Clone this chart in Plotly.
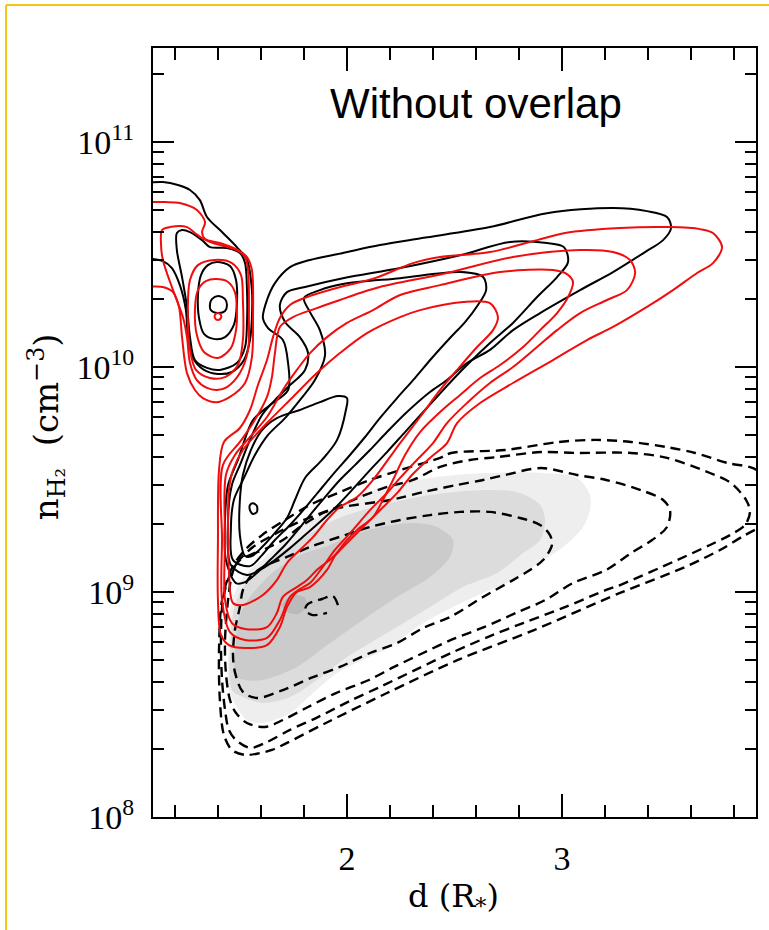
import plotly.graph_objects as go

# ---------------- data: d (R*) and log10 n_H2 (cm^-3) ----------------
# gray shaded density (three levels + peak)
gray1_d = [1.451,1.451,1.465,1.526,1.605,1.735,1.921,2.121,2.386,2.651,2.902,3.070,3.130,3.130,3.098,3.005,2.912,2.772,2.633,2.465,2.326,2.200,2.074,1.954,1.842,1.735,1.609,1.535,1.488,1.451]
gray1_lg = [8.564,8.787,8.964,9.076,9.142,9.253,9.364,9.453,9.507,9.529,9.529,9.507,9.431,9.364,9.289,9.200,9.142,9.053,8.996,8.920,8.844,8.756,8.698,8.640,8.551,8.462,8.418,8.431,8.489,8.564]
gray2_d = [1.465,1.460,1.479,1.540,1.642,1.781,1.921,2.074,2.386,2.665,2.805,2.898,2.921,2.898,2.819,2.698,2.540,2.386,2.233,2.107,1.981,1.860,1.735,1.609,1.516,1.465]
gray2_lg = [8.564,8.787,8.942,9.053,9.142,9.231,9.311,9.364,9.431,9.453,9.440,9.387,9.320,9.231,9.173,9.084,9.022,8.933,8.844,8.773,8.698,8.609,8.533,8.507,8.533,8.564]
gray3_d = [1.484,1.484,1.502,1.549,1.642,1.781,1.921,2.000,2.153,2.326,2.419,2.493,2.479,2.386,2.233,2.074,1.921,1.767,1.609,1.526,1.484]
gray3_lg = [8.627,8.787,8.898,8.978,9.076,9.164,9.209,9.244,9.289,9.307,9.289,9.231,9.156,9.067,8.978,8.876,8.773,8.667,8.609,8.609,8.627]
gray4_d = [1.712,1.758,1.805,1.809,1.772,1.721,1.698,1.712]
gray4_lg = [8.964,8.987,8.973,8.933,8.902,8.911,8.938,8.964]

# black dashed contours
dash0_d = [1.958,1.935,1.884,1.819,1.805,1.837,1.907]
dash0_lg = [8.942,8.982,8.969,8.947,8.920,8.898,8.907]
dash1_d = [1.470,1.479,1.502,1.516,1.549,1.609,1.721,1.828,1.991,2.107,2.247,2.386,2.526,2.665,2.805,2.898,2.944,2.953,2.912,2.851,2.772,2.633,2.479,2.354,2.233,2.107,1.967,1.842,1.702,1.581,1.516,1.479,1.470]
dash1_lg = [8.720,8.831,8.933,9.009,9.067,9.111,9.156,9.200,9.253,9.289,9.320,9.342,9.356,9.356,9.329,9.298,9.253,9.209,9.142,9.098,9.053,8.978,8.889,8.840,8.773,8.729,8.667,8.622,8.564,8.529,8.556,8.644,8.720]
dash2_d = [1.465,1.488,1.563,1.656,1.767,1.921,1.981,2.200,2.260,2.354,2.512,2.633,2.735,2.902,3.070,3.205,3.367,3.470,3.502,3.488,3.419,3.321,3.205,3.051,2.921,2.786,2.637,2.484,2.354,2.219,2.102,1.949,1.819,1.702,1.619,1.535,1.484,1.456,1.437,1.433,1.447,1.465]
dash2_lg = [9.076,9.129,9.200,9.253,9.307,9.364,9.378,9.409,9.422,9.444,9.476,9.498,9.520,9.551,9.520,9.498,9.453,9.409,9.364,9.289,9.231,9.173,9.098,9.040,8.964,8.907,8.844,8.787,8.729,8.667,8.609,8.551,8.489,8.431,8.400,8.418,8.462,8.520,8.640,8.787,8.964,9.076]
dash3_d = [1.502,1.549,1.628,1.702,1.781,1.888,1.967,2.060,2.186,2.307,2.433,2.572,2.702,2.902,3.070,3.321,3.488,3.688,3.786,3.856,3.874,3.851,3.781,3.688,3.535,3.270,3.205,3.014,2.819,2.665,2.484,2.316,2.153,2.014,1.865,1.735,1.619,1.549,1.484,1.451,1.433,1.419,1.414,1.423,1.456,1.502]
dash3_lg = [9.142,9.164,9.195,9.231,9.289,9.351,9.382,9.422,9.467,9.498,9.556,9.587,9.600,9.622,9.618,9.618,9.596,9.529,9.484,9.409,9.356,9.298,9.253,9.209,9.142,9.031,9.009,8.933,8.862,8.804,8.729,8.653,8.578,8.516,8.444,8.387,8.329,8.307,8.342,8.387,8.476,8.609,8.787,8.964,9.076,9.142]
dash4_d = [3.968,3.888,3.772,3.619,3.488,3.321,3.153,2.986,2.735,2.484,2.433,2.247,2.107,1.967,1.828,1.712,1.605,1.526,1.465,1.419,1.405,1.409,1.428,1.465,1.526,1.595,1.651,1.902,2.186,2.516,2.870,3.270,3.572,3.735,3.851,3.968]
dash4_lg = [9.498,9.551,9.573,9.618,9.644,9.667,9.676,9.667,9.631,9.618,9.596,9.542,9.498,9.444,9.387,9.320,9.253,9.187,9.107,8.964,8.742,8.520,8.364,8.298,8.276,8.284,8.298,8.418,8.551,8.698,8.831,8.996,9.111,9.187,9.253,9.311]

# black solid contours: blob at d~1.4
blk_blob1_d = [1.400,1.433,1.442,1.433,1.400,1.367,1.363,1.372,1.400]
blk_blob1_lg = [10.316,10.302,10.276,10.249,10.240,10.253,10.280,10.302,10.316]
blk_blob2_d = [1.395,1.456,1.484,1.488,1.474,1.433,1.386,1.335,1.312,1.307,1.321,1.353,1.395]
blk_blob2_lg = [10.467,10.449,10.387,10.276,10.187,10.133,10.124,10.147,10.218,10.320,10.409,10.453,10.467]
blk_blob3_d = [1.209,1.233,1.270,1.326,1.363,1.442,1.502,1.526,1.535,1.535,1.526,1.488,1.409,1.349,1.293,1.270,1.256,1.233,1.209,1.209]
blk_blob3_lg = [10.596,10.609,10.600,10.564,10.533,10.529,10.507,10.462,10.342,10.196,10.089,10.018,9.987,9.996,10.031,10.133,10.267,10.400,10.520,10.596]
blk_blob4_d = [1.060,1.144,1.214,1.270,1.316,1.349,1.419,1.488,1.535,1.558,1.558,1.549,1.521,1.465,1.400,1.335,1.284,1.260,1.251,1.223,1.186,1.144,1.060]
blk_blob4_lg = [10.818,10.822,10.809,10.787,10.742,10.667,10.600,10.533,10.476,10.342,10.222,10.120,10.031,9.978,9.969,9.987,10.040,10.142,10.253,10.364,10.440,10.471,10.484]
# black solid contours: ridge
blk_ridge1_d = [1.484,1.437,1.433,1.447,1.493,1.563,1.642,1.726,1.726,1.702,1.633,1.609,1.628,1.665,1.735,1.828,1.981,2.153,2.349,2.665,2.930,3.237,3.395,3.488,3.507,3.470,3.386,3.237,3.084,2.898,2.772,2.665,2.558,2.465,2.386,2.279,2.186,2.107,2.037,1.967,1.898,1.828,1.772,1.712,1.642,1.586,1.526,1.484]
blk_ridge1_lg = [9.040,9.142,9.320,9.476,9.587,9.764,9.831,9.898,10.018,10.120,10.173,10.218,10.298,10.373,10.444,10.476,10.507,10.542,10.573,10.622,10.684,10.707,10.693,10.667,10.618,10.564,10.511,10.422,10.342,10.240,10.164,10.076,10.018,9.942,9.889,9.800,9.711,9.631,9.564,9.498,9.422,9.342,9.276,9.209,9.142,9.089,9.044,9.040]
blk_ridge2_d = [1.535,1.460,1.447,1.465,1.502,1.549,1.605,1.665,1.726,1.805,1.819,1.781,1.712,1.688,1.721,1.805,1.981,2.247,2.530,2.758,2.930,3.009,3.028,2.977,2.884,2.772,2.665,2.558,2.456,2.363,2.270,2.186,2.107,2.023,1.949,1.874,1.805,1.735,1.665,1.595,1.535]
blk_ridge2_lg = [9.076,9.120,9.320,9.476,9.564,9.676,9.787,9.853,9.911,9.987,10.062,10.133,10.200,10.276,10.333,10.356,10.395,10.440,10.498,10.556,10.551,10.533,10.467,10.400,10.311,10.196,10.107,10.009,9.907,9.809,9.711,9.622,9.542,9.453,9.378,9.311,9.253,9.195,9.142,9.098,9.076]
blk_ridge3_d = [1.549,1.470,1.460,1.474,1.521,1.572,1.633,1.712,1.781,1.851,1.898,1.874,1.828,1.800,1.874,1.981,2.247,2.530,2.633,2.647,2.609,2.549,2.479,2.395,2.316,2.233,2.153,2.084,2.014,1.944,1.874,1.805,1.735,1.665,1.605,1.549]
blk_ridge3_lg = [9.115,9.142,9.276,9.409,9.507,9.609,9.698,9.773,9.853,9.942,10.053,10.164,10.244,10.307,10.342,10.369,10.395,10.422,10.400,10.342,10.276,10.200,10.129,10.040,9.951,9.862,9.773,9.689,9.609,9.533,9.453,9.373,9.298,9.231,9.164,9.115]
blk_ridge4_d = [1.526,1.502,1.502,1.516,1.553,1.605,1.674,1.781,1.874,1.958,2.000,1.995,1.954,1.884,1.805,1.758,1.721,1.656,1.605,1.558,1.526]
blk_ridge4_lg = [9.160,9.253,9.409,9.520,9.631,9.720,9.773,9.809,9.844,9.871,9.862,9.809,9.676,9.587,9.507,9.409,9.329,9.253,9.200,9.160,9.160]
blk_ridge5_d = [1.563,1.581,1.581,1.563,1.549,1.549,1.563]
blk_ridge5_lg = [9.395,9.382,9.356,9.347,9.364,9.387,9.395]

# red solid contours: blob
red_blob1_d = [1.400,1.414,1.414,1.400,1.386,1.386,1.400]
red_blob1_lg = [10.240,10.231,10.218,10.209,10.218,10.231,10.240]
red_blob2_d = [1.391,1.447,1.479,1.488,1.484,1.460,1.400,1.335,1.302,1.293,1.307,1.344,1.391]
red_blob2_lg = [10.391,10.378,10.333,10.253,10.164,10.084,10.040,10.067,10.142,10.253,10.342,10.382,10.391]
red_blob3_d = [1.386,1.465,1.507,1.516,1.516,1.493,1.433,1.363,1.298,1.270,1.260,1.270,1.307,1.386]
red_blob3_lg = [10.476,10.462,10.409,10.298,10.120,10.009,9.955,9.951,9.987,10.076,10.253,10.387,10.453,10.476]
red_blob4_d = [1.140,1.177,1.256,1.293,1.326,1.377,1.488,1.526,1.540,1.544,1.540,1.502,1.442,1.395,1.349,1.302,1.270,1.256,1.237,1.191,1.144,1.135,1.140]
red_blob4_lg = [10.609,10.622,10.622,10.596,10.573,10.551,10.520,10.489,10.431,10.222,10.076,9.973,9.911,9.898,9.907,9.942,10.018,10.133,10.222,10.342,10.476,10.551,10.609]
red_blob5_d = [1.060,1.153,1.223,1.302,1.340,1.326,1.340,1.409,1.493,1.535,1.558,1.563,1.558,1.526,1.456,1.395,1.330,1.293,1.256,1.233,1.219,1.191,1.144,1.060]
red_blob5_lg = [10.733,10.733,10.729,10.698,10.644,10.600,10.569,10.551,10.520,10.489,10.431,10.222,10.044,9.929,9.867,9.844,9.862,9.898,9.973,10.133,10.267,10.333,10.356,10.356]
# red solid contours: ridge
red_ridge1_d = [1.414,1.400,1.400,1.405,1.428,1.502,1.549,1.586,1.628,1.656,1.688,1.735,1.814,1.935,2.130,2.307,2.433,2.665,2.884,3.014,3.270,3.502,3.642,3.702,3.744,3.702,3.628,3.516,3.395,3.237,3.116,2.958,2.772,2.619,2.512,2.465,2.386,2.302,2.237,2.107,2.014,1.944,1.907,1.828,1.767,1.721,1.688,1.628,1.526,1.451,1.414]
red_ridge1_lg = [8.809,8.964,9.231,9.542,9.667,9.729,9.809,9.920,10.031,10.133,10.218,10.276,10.311,10.347,10.395,10.462,10.489,10.511,10.564,10.596,10.618,10.622,10.613,10.596,10.533,10.462,10.418,10.342,10.267,10.178,10.120,10.031,9.929,9.840,9.751,9.662,9.596,9.520,9.444,9.320,9.231,9.160,9.098,9.022,9.000,8.933,8.844,8.764,8.751,8.764,8.809]
red_ridge2_d = [1.456,1.419,1.419,1.423,1.502,1.563,1.628,1.651,1.665,1.688,1.749,1.860,1.967,2.060,2.153,2.465,2.772,3.084,3.237,3.316,3.340,3.302,3.209,3.084,2.977,2.884,2.772,2.665,2.558,2.465,2.400,2.316,2.247,2.186,2.107,2.028,1.944,1.884,1.828,1.781,1.735,1.688,1.628,1.526,1.456]
red_ridge2_lg = [8.822,8.964,9.231,9.564,9.667,9.751,9.867,9.955,10.062,10.178,10.222,10.262,10.298,10.329,10.356,10.418,10.489,10.520,10.511,10.476,10.418,10.342,10.298,10.240,10.164,10.089,10.000,9.929,9.840,9.751,9.662,9.578,9.507,9.440,9.364,9.276,9.187,9.107,9.040,9.013,8.978,8.876,8.796,8.787,8.822]
red_ridge3_d = [1.465,1.433,1.433,1.437,1.479,1.549,1.628,1.702,1.767,1.828,1.907,2.000,2.121,2.247,2.433,2.712,2.958,3.023,3.051,3.028,2.977,2.898,2.819,2.712,2.619,2.526,2.433,2.340,2.270,2.214,2.167,2.121,2.047,2.000,1.935,1.860,1.814,1.767,1.702,1.674,1.628,1.526,1.465]
red_ridge3_lg = [8.862,8.964,9.231,9.520,9.609,9.689,9.778,9.898,9.987,10.062,10.133,10.196,10.253,10.320,10.364,10.422,10.431,10.413,10.378,10.311,10.240,10.164,10.089,10.009,9.951,9.876,9.800,9.711,9.609,9.498,9.409,9.333,9.276,9.231,9.156,9.098,9.053,9.022,8.978,8.907,8.844,8.836,8.862]
red_ridge4_d = [1.470,1.451,1.447,1.451,1.470,1.516,1.628,1.749,1.860,1.967,2.093,2.247,2.340,2.540,2.665,2.702,2.679,2.605,2.512,2.433,2.340,2.247,2.121,2.047,1.967,1.907,1.842,1.781,1.721,1.674,1.609,1.516,1.470]
red_ridge4_lg = [8.951,9.098,9.276,9.453,9.542,9.631,9.751,9.867,9.973,10.062,10.151,10.222,10.253,10.289,10.284,10.222,10.164,10.089,9.987,9.898,9.778,9.662,9.498,9.422,9.378,9.320,9.244,9.187,9.129,9.053,8.987,8.942,8.951]

# axes
x_range = [1.098, 3.902]
lg_range = [8.0, 11.418]
x_tick_vals = [2, 3]
x_tick_text = ["2", "3"]
y_tick_vals = [1e8, 1e9, 1e10, 1e11]
y_tick_text = ["10<sup>8</sup>", "10<sup>9</sup>", "10<sup>10</sup>", "10<sup>11</sup>"]
y_minor_vals = [m * 10.0 ** e for e in (8, 9, 10, 11) for m in range(2, 10)]
panel_label = "Without overlap"

# ---------------- figure ----------------
fig = go.Figure()


def add_curve(d, lg, color, width=2.0, dash=None, fillcolor=None):
    ys = [10 ** v for v in lg]
    if fillcolor is not None:
        fig.add_trace(go.Scatter(x=d, y=ys, mode="lines", fill="toself", fillcolor=fillcolor,
                                 line=dict(width=0, color=fillcolor, shape="spline", smoothing=0.9),
                                 hoverinfo="skip", showlegend=False))
    else:
        fig.add_trace(go.Scatter(x=d, y=ys, mode="lines",
                                 line=dict(width=width, color=color, dash=dash, shape="spline", smoothing=0.9),
                                 hoverinfo="skip", showlegend=False))


for d, lg, c in [(gray1_d, gray1_lg, "#eeeeee"), (gray2_d, gray2_lg, "#dcdcdc"),
                 (gray3_d, gray3_lg, "#cbcbcb"), (gray4_d, gray4_lg, "#bababa")]:
    add_curve(d, lg, None, fillcolor=c)

for d, lg in [(dash0_d, dash0_lg), (dash1_d, dash1_lg), (dash2_d, dash2_lg),
              (dash3_d, dash3_lg), (dash4_d, dash4_lg)]:
    add_curve(d, lg, "black", width=2.4, dash="10px,6px")

for d, lg in [(blk_blob1_d, blk_blob1_lg), (blk_blob2_d, blk_blob2_lg), (blk_blob3_d, blk_blob3_lg),
              (blk_blob4_d, blk_blob4_lg), (blk_ridge1_d, blk_ridge1_lg), (blk_ridge2_d, blk_ridge2_lg),
              (blk_ridge3_d, blk_ridge3_lg), (blk_ridge4_d, blk_ridge4_lg), (blk_ridge5_d, blk_ridge5_lg)]:
    add_curve(d, lg, "black", width=2.0)

for d, lg in [(red_blob1_d, red_blob1_lg), (red_blob2_d, red_blob2_lg), (red_blob3_d, red_blob3_lg),
              (red_blob4_d, red_blob4_lg), (red_blob5_d, red_blob5_lg), (red_ridge1_d, red_ridge1_lg),
              (red_ridge2_d, red_ridge2_lg), (red_ridge3_d, red_ridge3_lg), (red_ridge4_d, red_ridge4_lg)]:
    add_curve(d, lg, "#f00d0d", width=2.0)

tick_font = dict(family="Liberation Serif", size=34, color="black")

fig.update_xaxes(range=x_range, showline=True, linecolor="black", linewidth=2, mirror="allticks",
                 ticks="inside", ticklen=23, tickwidth=2, tickcolor="black",
                 tickvals=x_tick_vals, ticktext=x_tick_text, tickfont=tick_font, ticklabelstandoff=10,
                 minor=dict(ticks="inside", ticklen=12, tickwidth=1.6, tickcolor="black", dtick=0.2, tick0=0,
                            showgrid=False),
                 showgrid=False, zeroline=False, fixedrange=True)
fig.update_yaxes(type="log", range=lg_range, showline=True, linecolor="black", linewidth=2, mirror="allticks",
                 ticks="inside", ticklen=21, tickwidth=2, tickcolor="black",
                 tickvals=y_tick_vals, ticktext=y_tick_text, tickfont=tick_font, ticklabelstandoff=10,
                 minor=dict(ticks="inside", ticklen=11, tickwidth=1.6, tickcolor="black", tickvals=y_minor_vals,
                            showgrid=False),
                 showgrid=False, zeroline=False, fixedrange=True)

fig.add_annotation(x=2.6, y=11.17, xref="x", yref="y", text=panel_label, showarrow=False,
                   xanchor="center", yanchor="middle",
                   font=dict(family="Liberation Sans", size=42, color="black"))
fig.add_annotation(x=-0.1774, y=0.507, xref="paper", yref="paper", textangle=-90, showarrow=False,
                   xanchor="center", yanchor="middle",
                   text="n<sub>H₂</sub>  (cm<sup>−3</sup>)",
                   font=dict(family="DejaVu Serif", size=34, color="black"))
fig.add_annotation(x=0.499, y=-0.105, xref="paper", yref="paper", showarrow=False,
                   xanchor="center", yanchor="middle",
                   text="d (R<sub>*</sub>)",
                   font=dict(family="DejaVu Serif", size=32, color="black"))

# frame decoration (yellow border of the original slide)
yel = "#f5c518"
fig.add_shape(type="line", xref="paper", yref="paper", x0=-0.2438, x1=-0.2438, y0=-0.2, y1=1.0559,
              line=dict(color=yel, width=2))
fig.add_shape(type="line", xref="paper", yref="paper", x0=-0.2438, x1=1.05, y0=1.0559, y1=1.0559,
              line=dict(color=yel, width=2))

fig.update_layout(width=769, height=930, margin=dict(l=153, r=13, t=48, b=113),
                  paper_bgcolor="white", plot_bgcolor="white", showlegend=False, hovermode=False)

fig.write_html("out.html", config={"displayModeBar": False})
